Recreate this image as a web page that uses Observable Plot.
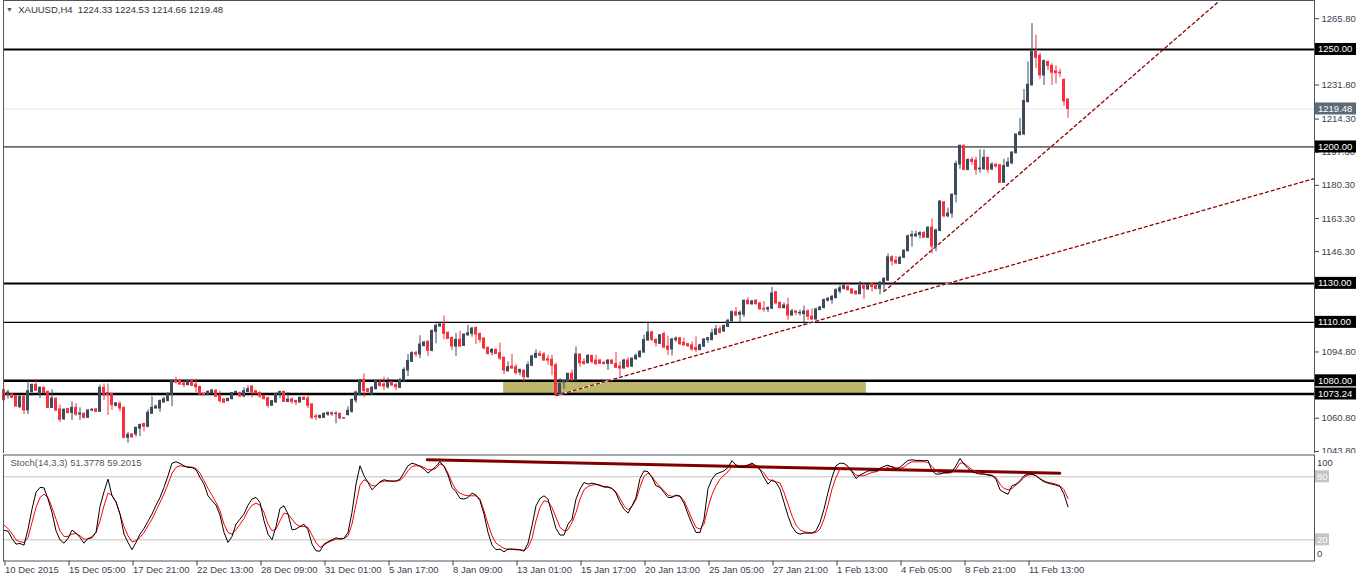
<!DOCTYPE html>
<html><head><meta charset="utf-8">
<script src="https://cdn.jsdelivr.net/npm/d3@7"></script>
<script src="https://cdn.jsdelivr.net/npm/@observablehq/plot@0.6"></script>
<style>
html,body{margin:0;padding:0;background:#fff;overflow:hidden}
#wrap{position:relative;width:1358px;height:581px;font-family:"Liberation Sans",Arial,sans-serif}
#main{position:absolute;left:0;top:0}
#stoch{position:absolute;left:0;top:453px}
#title{position:absolute;left:6px;top:4px;font-size:9.5px;line-height:12px;color:#333;white-space:pre}
#title .tri{font-size:7px;color:#556;vertical-align:1px}
</style></head>
<body><div id="wrap"><div id="main"></div><div id="stoch"></div><div id="title"></div></div>
<script>
// ---------------- DATA ----------------
const symbol = "XAUUSD,H4";
const open = [1075.2,1072.6,1073.0,1072.3,1066.5,1071.8,1064.8,1074.3,1077.9,1073.3,
1076.4,1074.3,1066.1,1070.8,1065.3,1060.3,1065.5,1063.6,1066.1,1062.7,
1063.1,1061.0,1064.8,1065.3,1064.1,1076.4,1073.7,1073.3,1067.2,1068.2,
1066.1,1050.8,1052.5,1052.5,1055.5,1057.9,1056.4,1063.1,1065.8,1065.8,
1068.9,1069.6,1072.6,1080.0,1080.0,1078.6,1077.8,1079.8,1078.1,1076.9,
1073.3,1073.0,1073.7,1074.9,1072.3,1070.4,1069.6,1070.6,1073.7,1073.7,
1072.0,1074.3,1077.1,1074.7,1073.8,1072.3,1071.1,1067.2,1068.9,1073.0,
1074.3,1069.2,1070.4,1069.7,1068.9,1071.3,1070.9,1067.9,1061.7,1061.0,
1061.0,1062.7,1063.4,1063.0,1063.1,1060.7,1062.4,1064.1,1069.9,1072.6,
1080.5,1075.7,1073.0,1075.7,1079.1,1078.1,1076.7,1079.3,1077.8,1076.4,
1080.2,1085.3,1089.7,1094.2,1093.5,1097.9,1100.0,1095.4,1105.1,1107.9,
1108.9,1104.6,1102.0,1097.6,1101.0,1097.9,1103.4,1104.1,1107.2,1104.1,
1101.7,1096.9,1094.5,1095.9,1094.2,1091.8,1084.9,1087.3,1087.0,1084.3,
1085.3,1081.9,1087.7,1091.8,1093.8,1093.5,1091.1,1090.8,1088.0,1073.0,
1079.1,1079.5,1083.6,1080.2,1093.5,1089.7,1089.0,1092.8,1090.4,1090.4,
1089.2,1088.7,1090.4,1088.7,1087.3,1086.3,1090.4,1087.3,1091.1,1092.1,
1094.5,1100.7,1104.8,1101.0,1099.0,1104.0,1097.6,1096.1,1100.9,1101.9,
1099.5,1098.8,1098.2,1096.8,1095.8,1097.5,1100.9,1100.9,1103.6,1106.4,
1105.3,1107.7,1110.5,1115.2,1113.9,1113.9,1121.1,1119.3,1121.1,1119.7,
1116.9,1116.6,1117.0,1125.5,1120.0,1117.3,1118.7,1113.5,1115.6,1114.6,
1114.2,1115.6,1112.9,1111.5,1116.3,1117.3,1121.1,1121.4,1122.4,1125.8,
1127.2,1128.2,1126.9,1125.8,1124.5,1128.6,1126.9,1129.6,1128.6,1127.2,
1129.9,1131.4,1143.4,1141.7,1140.0,1143.1,1146.5,1154.1,1154.1,1154.8,
1155.8,1153.4,1158.6,1148.9,1156.9,1171.6,1164.4,1165.8,1175.4,1191.0,
1200.6,1188.2,1193.3,1193.0,1188.5,1188.5,1194.4,1188.5,1190.9,1190.6,
1181.6,1189.9,1191.6,1196.8,1206.1,1206.4,1223.0,1231.6,1248.8,1246.7,
1236.7,1243.6,1241.6,1238.8,1238.1,1234.3,1224.33];
const high = [1075.7,1075.2,1073.3,1072.3,1072.3,1072.3,1080.0,1078.4,1080.0,1076.9,
1076.9,1074.7,1075.4,1071.3,1067.5,1065.8,1065.8,1069.2,1068.4,1066.1,
1063.4,1065.1,1065.8,1065.8,1077.8,1078.4,1078.4,1073.7,1068.9,1069.2,
1066.5,1053.5,1052.8,1056.2,1057.9,1057.9,1065.1,1071.8,1067.5,1070.2,
1071.6,1074.0,1080.3,1081.9,1080.8,1080.0,1080.5,1080.8,1080.8,1076.9,
1074.0,1075.0,1075.7,1075.4,1074.7,1070.9,1070.9,1074.0,1074.7,1074.3,
1076.4,1077.4,1077.4,1075.0,1074.3,1072.6,1071.6,1069.9,1073.7,1074.7,
1074.7,1074.0,1071.3,1069.9,1071.6,1071.8,1072.3,1068.2,1062.7,1062.4,
1063.4,1064.1,1064.1,1064.1,1063.4,1061.0,1066.7,1070.6,1074.7,1080.8,
1083.6,1076.1,1077.1,1080.2,1080.3,1081.9,1081.5,1079.5,1078.8,1081.2,
1086.7,1093.5,1094.9,1095.2,1103.1,1100.3,1100.5,1106.1,1109.2,1110.2,
1113.3,1105.1,1102.4,1104.4,1105.5,1104.1,1108.5,1107.5,1107.2,1104.4,
1102.0,1097.3,1096.6,1096.2,1099.3,1092.1,1089.7,1093.5,1088.4,1086.0,
1085.3,1089.7,1093.1,1095.9,1095.2,1094.5,1093.1,1093.1,1089.0,1081.2,
1080.2,1083.9,1085.6,1097.4,1093.8,1091.4,1093.5,1093.1,1093.1,1091.1,
1090.1,1090.8,1090.8,1094.5,1089.7,1091.1,1091.8,1091.8,1093.8,1095.5,
1103.4,1109.6,1105.5,1101.4,1103.7,1105.0,1102.9,1101.9,1102.6,1102.3,
1101.9,1099.2,1099.9,1102.6,1098.8,1101.6,1102.3,1106.4,1108.4,1108.1,
1108.7,1111.5,1115.9,1117.6,1115.9,1121.4,1122.8,1121.4,1121.7,1120.0,
1120.7,1118.0,1127.9,1125.8,1120.4,1120.0,1122.4,1116.6,1115.9,1116.3,
1118.3,1116.6,1116.9,1117.3,1118.3,1122.1,1122.8,1123.8,1127.2,1128.9,
1129.3,1130.6,1127.2,1126.2,1131.0,1129.9,1129.6,1129.9,1129.3,1131.0,
1133.0,1145.1,1144.1,1143.8,1143.8,1147.2,1154.8,1156.8,1156.8,1156.5,
1156.5,1158.9,1163.0,1157.9,1172.3,1172.0,1168.6,1176.1,1192.7,1200.9,
1200.9,1194.0,1194.7,1194.7,1198.5,1198.5,1194.7,1192.0,1191.3,1190.9,
1193.7,1194.4,1197.5,1206.4,1214.7,1229.5,1243.6,1263.3,1257.4,1248.1,
1244.7,1244.0,1242.6,1241.6,1239.8,1235.0,1224.53];
const low = [1069.6,1070.6,1070.9,1066.5,1065.8,1062.7,1062.7,1072.0,1074.9,1070.9,
1073.3,1065.8,1066.1,1064.1,1058.6,1059.6,1063.1,1059.6,1061.7,1059.6,
1060.3,1061.0,1064.1,1063.7,1064.1,1069.9,1062.2,1064.8,1066.5,1064.1,
1050.1,1048.0,1050.4,1051.1,1051.4,1053.8,1055.9,1062.7,1065.5,1063.7,
1068.5,1069.2,1066.8,1078.4,1077.8,1076.4,1077.4,1077.1,1074.0,1072.6,
1072.0,1072.3,1073.0,1071.6,1068.5,1068.2,1069.2,1070.2,1073.3,1071.3,
1071.3,1074.0,1071.3,1073.0,1070.9,1070.2,1066.1,1066.8,1068.5,1070.9,
1068.9,1068.9,1067.9,1067.2,1068.5,1069.9,1065.8,1060.0,1059.6,1060.3,
1060.7,1061.7,1061.7,1057.9,1060.0,1060.5,1062.0,1063.4,1068.4,1072.3,
1071.3,1073.7,1072.6,1075.4,1076.7,1075.0,1075.7,1077.1,1075.0,1076.1,
1079.1,1082.2,1089.4,1092.1,1091.4,1097.3,1092.5,1094.9,1099.0,1107.5,
1101.0,1101.4,1095.5,1092.5,1097.3,1097.6,1102.7,1102.4,1098.6,1099.3,
1095.9,1093.1,1092.8,1093.5,1090.4,1083.2,1084.6,1086.0,1082.9,1082.6,
1079.5,1081.2,1087.3,1091.4,1092.5,1090.1,1088.0,1082.6,1072.0,1072.6,
1075.7,1079.1,1079.8,1079.8,1087.0,1088.0,1088.7,1088.7,1087.7,1088.4,
1088.0,1085.3,1088.4,1086.3,1082.2,1086.0,1086.7,1087.0,1090.4,1091.8,
1094.2,1100.3,1100.0,1097.3,1098.6,1096.4,1093.0,1092.7,1099.8,1098.2,
1097.8,1097.1,1095.1,1094.4,1095.4,1097.1,1099.2,1100.5,1103.3,1104.0,
1105.0,1107.4,1110.1,1112.9,1110.1,1112.5,1119.0,1118.7,1119.0,1116.3,
1115.2,1114.9,1116.6,1119.0,1116.9,1116.9,1111.1,1113.2,1113.5,1113.2,
1108.1,1111.1,1110.8,1111.1,1115.9,1116.9,1120.4,1119.3,1122.1,1124.5,
1126.5,1126.2,1124.5,1123.8,1124.1,1121.7,1126.5,1125.5,1126.5,1124.1,
1125.8,1131.0,1138.9,1139.6,1139.6,1142.7,1146.2,1148.6,1153.7,1152.7,
1153.1,1153.1,1145.1,1146.2,1156.5,1163.7,1163.7,1163.4,1171.3,1188.5,
1187.8,1187.8,1190.6,1185.4,1186.5,1188.2,1186.5,1187.8,1189.2,1181.3,
1181.3,1189.6,1190.9,1196.4,1205.7,1206.1,1222.6,1231.2,1240.2,1234.7,
1231.6,1239.1,1231.6,1232.3,1235.7,1220.9,1214.66];
const close = [1070.1,1074.0,1071.3,1066.8,1071.8,1064.8,1074.7,1077.9,1074.9,1076.4,
1073.7,1066.1,1070.9,1064.8,1060.0,1065.1,1063.4,1066.1,1062.7,1063.2,
1061.0,1064.8,1065.1,1064.1,1076.4,1073.0,1072.6,1067.5,1068.4,1065.8,
1050.8,1052.3,1051.1,1055.9,1057.3,1056.4,1063.6,1066.1,1066.8,1069.6,
1070.6,1073.3,1080.0,1079.1,1078.1,1077.8,1080.0,1077.4,1076.7,1073.0,
1072.6,1074.3,1075.0,1071.8,1069.6,1068.9,1070.8,1073.8,1074.3,1072.0,
1074.7,1075.7,1074.0,1073.5,1072.0,1070.6,1067.2,1069.6,1073.3,1074.3,
1069.2,1070.4,1069.2,1068.9,1071.3,1070.2,1067.2,1061.0,1061.2,1062.0,
1063.1,1063.4,1062.7,1063.1,1060.7,1060.8,1064.6,1070.2,1074.0,1080.2,
1074.7,1074.3,1076.4,1079.8,1077.4,1077.1,1078.8,1077.6,1076.7,1080.2,
1085.6,1090.2,1094.2,1093.5,1098.6,1099.6,1095.4,1105.6,1108.2,1108.9,
1104.1,1101.5,1097.6,1101.0,1097.6,1103.7,1104.4,1106.8,1103.7,1101.0,
1096.6,1093.8,1095.9,1093.8,1091.4,1085.3,1087.0,1086.3,1083.9,1085.6,
1081.9,1088.0,1092.5,1093.8,1092.8,1090.4,1090.4,1087.7,1073.0,1078.4,
1079.8,1083.6,1080.2,1093.5,1089.0,1088.7,1092.8,1089.7,1088.7,1088.7,
1088.7,1090.4,1088.7,1086.7,1086.3,1090.4,1087.0,1091.4,1092.8,1094.9,
1101.0,1104.8,1101.0,1099.3,1103.4,1097.1,1095.9,1101.2,1101.6,1098.8,
1098.2,1097.8,1096.1,1095.8,1098.2,1101.2,1101.9,1104.3,1106.4,1104.6,
1108.1,1110.8,1115.2,1113.5,1114.9,1121.1,1119.3,1120.7,1119.3,1116.6,
1116.6,1117.3,1124.8,1119.7,1117.3,1118.7,1113.5,1115.6,1114.9,1114.9,
1115.6,1112.9,1111.5,1116.6,1117.6,1121.4,1122.1,1123.1,1126.5,1127.5,
1128.6,1126.5,1124.8,1124.5,1128.6,1127.2,1128.9,1128.2,1127.2,1130.3,
1132.3,1143.4,1141.3,1140.3,1143.1,1146.8,1154.1,1154.8,1155.1,1155.8,
1153.4,1158.6,1148.9,1157.2,1172.0,1164.4,1165.8,1175.4,1191.3,1200.6,
1188.2,1193.3,1192.3,1188.2,1188.9,1194.4,1188.2,1190.9,1189.9,1181.6,
1190.2,1192.0,1197.1,1206.4,1207.5,1223.6,1231.9,1248.8,1245.7,1236.7,
1244.0,1241.6,1238.1,1237.8,1237.8,1223.3,1219.48];

// Stochastic(14,3,3) main (%K, black) and signal (%D, red)
const stochK = [28.9,28.3,21.3,15.9,16.5,14.9,30.2,49.2,65.1,69.9,
69.5,58.8,46.1,28.6,20.0,16.8,21.3,29.2,26.4,22.2,
16.8,21.3,21.9,27.0,51.8,65.7,77.8,61.9,56.2,44.5,
25.4,17.5,10.5,17.5,25.4,30.8,37.8,44.5,53.0,60.3,
69.9,81.0,93.0,94.3,92.7,90.5,88.9,88.9,86.7,79.4,
73.0,61.9,57.2,53.0,43.5,27.0,17.5,23.2,34.9,39.7,
44.5,53.0,58.8,60.3,55.6,38.1,25.4,20.0,32.7,49.9,
52.4,44.5,29.5,30.2,32.7,34.9,29.5,15.9,9.5,9.2,
15.9,18.1,20.0,21.9,20.6,21.3,27.0,46.1,73.0,90.5,
81.0,74.6,67.6,71.5,75.3,77.2,76.2,75.9,75.9,77.8,
84.1,90.5,93.0,91.8,89.9,87.3,83.5,86.7,89.9,94.3,
89.9,81.6,69.9,65.7,59.4,58.8,60.3,64.5,62.6,57.2,
44.5,27.0,14.9,10.5,11.1,8.6,11.1,11.1,10.5,10.5,
9.2,16.8,33.3,52.4,59.4,61.9,58.8,44.5,30.8,24.5,
24.5,34.9,39.7,58.8,68.3,74.6,73.0,74.0,73.0,72.1,
70.5,70.5,68.9,64.5,55.6,49.2,45.4,52.4,60.3,78.4,
85.7,84.8,79.4,71.5,69.9,65.1,60.3,60.3,62.6,61.3,
54.9,44.5,34.9,27.0,27.0,39.7,68.9,77.8,82.6,84.1,
85.7,88.9,95.3,91.1,88.9,89.9,91.1,93.0,90.5,86.7,
79.4,73.0,77.2,74.6,68.3,55.6,42.9,32.7,27.0,25.4,
26.4,26.4,26.4,28.6,36.5,49.2,65.1,79.4,90.5,93.0,
92.7,89.9,84.8,78.4,81.6,83.5,85.7,85.7,85.7,88.0,
89.9,91.1,89.2,87.3,89.2,92.4,95.6,96.2,95.6,95.6,
95.3,95.6,85.7,82.6,82.6,84.1,84.1,84.8,90.5,97.5,
92.1,88.0,84.8,83.5,82.6,82.6,81.6,81.0,77.8,67.6,
65.1,63.5,71.5,73.0,76.2,81.0,82.6,82.6,81.0,77.8,
75.3,74.0,73.0,72.1,70.8,63.5,51.3778];
const stochD = [34.0,30.8,26.0,20.0,18.1,17.5,22.2,36.5,50.8,60.3,
63.5,60.3,50.8,39.7,28.3,23.2,23.2,25.4,26.0,23.8,
20.6,20.6,23.2,27.0,38.1,52.4,64.5,62.6,55.6,44.5,
32.7,23.8,18.1,19.1,22.2,27.0,33.3,39.7,47.6,55.6,
63.5,73.0,83.5,88.9,90.5,89.9,89.5,89.2,88.0,83.5,
76.2,68.9,62.6,55.6,47.6,34.9,27.0,25.4,29.5,34.9,
40.3,47.6,53.0,54.9,53.0,46.1,34.9,28.6,30.2,38.1,
45.4,44.5,39.7,34.9,32.7,32.7,31.8,24.5,17.5,12.7,
14.9,17.5,19.1,20.6,21.3,21.3,23.8,34.9,54.0,72.1,
77.2,75.3,71.5,71.5,74.6,75.9,75.9,75.9,75.9,76.5,
80.3,85.7,89.9,90.5,90.5,88.9,86.7,86.7,88.0,92.4,
90.5,83.5,74.6,67.6,64.5,62.6,61.9,61.9,61.9,58.8,
47.6,34.9,23.8,16.8,14.3,11.8,11.1,11.1,11.1,10.5,
9.9,12.7,21.3,38.1,50.8,57.2,56.2,50.8,41.3,31.8,
28.6,29.5,36.5,46.1,58.8,67.6,70.8,72.1,72.7,71.5,
70.2,69.9,68.9,65.7,59.4,52.4,48.6,51.8,58.1,69.9,
80.3,83.5,80.3,74.6,70.8,66.7,62.6,61.3,61.9,61.9,
57.2,48.6,39.7,31.8,30.2,34.9,50.8,62.9,71.5,77.8,
81.6,84.8,89.9,91.1,90.5,90.5,91.1,91.8,89.9,87.3,
83.5,77.8,76.2,75.3,74.0,65.1,54.0,42.9,34.0,29.5,
27.6,27.0,26.4,27.0,30.2,39.7,53.0,68.3,79.4,87.3,
88.9,88.0,85.7,81.6,81.0,81.0,82.6,84.1,84.8,86.1,
87.3,89.2,89.9,88.6,88.0,89.2,92.4,94.3,94.3,94.3,
94.3,93.7,89.9,85.7,83.5,83.5,83.5,84.1,87.3,93.0,
93.0,89.9,86.7,84.8,83.5,82.6,82.2,81.6,79.4,73.0,
68.9,67.6,68.9,72.1,75.3,79.4,81.6,82.2,81.0,78.4,
76.2,74.6,74.0,73.0,71.5,67.6,59.2015];

// Time axis labels (every 16th H4 bar)
const xTickBars = [0,16,32,48,64,80,96,112,128,144,160,176,192,208,224,240,256];
const xTickLabels = ["10 Dec 2015","15 Dec 05:00","17 Dec 21:00","22 Dec 13:00","28 Dec 09:00",
  "31 Dec 01:00","5 Jan 17:00","8 Jan 09:00","13 Jan 01:00","15 Jan 17:00","20 Jan 13:00",
  "25 Jan 05:00","27 Jan 21:00","1 Feb 13:00","4 Feb 05:00","8 Feb 21:00","11 Feb 13:00"];
// Price-scale labels (those fully covered by the level tags are only ticks)
const priceTicks = [1265.80,1248.80,1231.80,1214.30,1197.30,1180.30,1163.30,1146.30,1129.30,1112.30,1094.80,1077.80,1060.80,1043.80];
const priceTicksCovered = [1129.30,1112.30,1077.80];

// Horizontal levels drawn on the chart
const levelPrices = [1250.00, 1200.00, 1130.00, 1110.00, 1080.00, 1073.24];
const levelWeights = [2, 1, 2, 1.2, 2.5, 2.5];
// Support zone (bar range and price range)
const zoneBars = [124.9, 215.6];
const zonePrices = [1073.24, 1080.00];
// Trend lines: [bar, price] endpoints
const trendLower = [[138, 1072.4], [327.6, 1183.8]];
const trendSteep = [[220, 1125.8], [303.5, 1274.3]];
// Stochastic trend line
const stochTrend = [[105.8, 96.2], [263.95, 83.4]];
const stochLevels = [80, 20];
const stochLabel = "Stoch(14,3,3) 51.3778 59.2015";
const lastPrice = close[close.length - 1];

// ---------------- BUILD ----------------
const FONT = '"Liberation Sans", Arial, sans-serif';
const UP = "#3f4b5b", DOWN = "#f5313e", FRAME = "#4b5663", TXT = "#3a424c";
const xDomain = [-0.125, 327.625];
const candles = open.map((o, i) => ({i, o, h: high[i], l: low[i], c: close[i], col: close[i] >= o ? UP : DOWN}));
const levels = levelPrices.map((v, k) => ({v, w: levelWeights[k]}));
const zone = [{x1: zoneBars[0], x2: zoneBars[1], y1: zonePrices[0], y2: zonePrices[1]}];
const toPts = a => a.map(([i, p]) => ({i, p}));

const mainChart = Plot.plot({
  width: 1358, height: 454,
  marginLeft: 3, marginRight: 44, marginTop: 0, marginBottom: 0,
  style: {fontFamily: FONT, fontSize: "9.5px", background: "#fff", overflow: "visible"},
  x: {domain: xDomain, axis: null, label: null},
  y: {domain: [1042.2, 1275.14], label: null},
  color: {type: "identity"},
  marks: [
    Plot.rect(zone, {x1: "x1", x2: "x2", y1: "y1", y2: "y2", fill: "#bdb76b"}),
    Plot.ruleY([lastPrice], {stroke: "#e6e6e6"}),
    Plot.ruleY(levels, {y: "v", strokeWidth: "w", stroke: "#000"}),
    Plot.line(toPts(trendLower), {x: "i", y: "p", stroke: "#fff", strokeWidth: 1.3}),
    Plot.line(toPts(trendLower), {x: "i", y: "p", stroke: "#8b0000", strokeWidth: 1.3, strokeDasharray: "3,3"}),
    Plot.line(toPts(trendSteep), {x: "i", y: "p", stroke: "#8b0000", strokeWidth: 1.3, strokeDasharray: "3,3"}),
    Plot.ruleX(candles, {x: "i", y1: "l", y2: "h", stroke: "col", strokeWidth: 1}),
    Plot.rect(candles, {x1: d => d.i - 0.375, x2: d => d.i + 0.375,
      y1: d => Math.min(d.o, d.c), y2: d => Math.max(d.o, d.c), fill: "col", insetTop: -0.5, insetBottom: -0.5}),
    Plot.axisY(priceTicks, {anchor: "right", tickSize: 4, tickPadding: 3, text: null, color: TXT}),
    Plot.axisY(priceTicks.filter(t => !priceTicksCovered.includes(t)),
      {anchor: "right", tickSize: 0, tickPadding: 7, tickFormat: d => d.toFixed(2), color: TXT, fontSize: 9.5}),
    Plot.frame({stroke: FRAME})
  ]
});
document.getElementById("main").append(mainChart);

// highlighted price labels (levels + last price)
{
  const ys = mainChart.scale("y");
  const labs = levelPrices.map(v => ({v, bg: "#000"})).concat([{v: lastPrice, bg: "#5d6a78"}]);
  const g = d3.select(mainChart).append("g").attr("font-family", FONT).attr("font-size", 9.5).attr("text-anchor", "start");
  for (const L of labs) {
    const y = ys.apply(L.v);
    g.append("rect").attr("x", 1315).attr("y", y - 6).attr("width", 41).attr("height", 12).attr("fill", L.bg);
    g.append("text").attr("x", 1318).attr("y", y).attr("dy", "0.35em").attr("fill", "#fff").text(L.v.toFixed(2));
  }
}

const kData = stochK.map((v, i) => ({i, v}));
const dData = stochD.map((v, i) => ({i, v}));
const tickLabel = new Map(xTickBars.map((b, k) => [b, xTickLabels[k]]));

const stochChart = Plot.plot({
  width: 1358, height: 128,
  marginLeft: 3, marginRight: 44, marginTop: 1.5, marginBottom: 20.5,
  style: {fontFamily: FONT, fontSize: "9.5px", background: "#fff", overflow: "visible"},
  x: {domain: xDomain, label: null},
  y: {domain: [0, 100], range: [107.3, 2.3], axis: null, label: null},
  marks: [
    Plot.ruleY(stochLevels, {stroke: "#c0c0c0"}),
    Plot.line(toPts(stochTrend), {x: "i", y: "p", stroke: "#800000", strokeWidth: 3}),
    Plot.line(dData, {x: "i", y: "v", stroke: "#ff0000", strokeWidth: 1}),
    Plot.line(kData, {x: "i", y: "v", stroke: "#000", strokeWidth: 1}),
    Plot.text([stochLabel], {frameAnchor: "top-left", text: d => d, dx: 7, dy: 4, lineAnchor: "top", textAnchor: "start", fill: "#555"}),
    Plot.axisX(xTickBars, {anchor: "bottom", tickSize: 5, tickPadding: 0, textAnchor: "start", dx: 1,
      tickFormat: d => tickLabel.get(d), color: TXT, fontSize: 9.5}),
    Plot.frame({stroke: FRAME})
  ]
});
document.getElementById("stoch").append(stochChart);

// stochastic scale labels
{
  const ys = stochChart.scale("y");
  const g = d3.select(stochChart).append("g").attr("font-family", FONT).attr("font-size", 9.5).attr("text-anchor", "start");
  const items = [{v: 100, dy: 7, box: false}, {v: 80, dy: 0, box: true}, {v: 20, dy: 0, box: true}, {v: 0, dy: -7, box: false}];
  for (const it of items) {
    const y = ys.apply(it.v) + it.dy;
    if (it.box) g.append("rect").attr("x", 1315).attr("y", y - 6).attr("width", 14).attr("height", 12).attr("fill", "#c4c4c4");
    g.append("text").attr("x", 1317).attr("y", y).attr("dy", "0.35em").attr("fill", it.box ? "#fff" : TXT).text(it.v);
  }
}

document.getElementById("title").innerHTML =
  '<span class="tri">\u25BC</span>  ' + symbol + '  ' + [open, high, low, close].map(a => a[a.length - 1].toFixed(2)).join(" ");
</script>
</body></html>
